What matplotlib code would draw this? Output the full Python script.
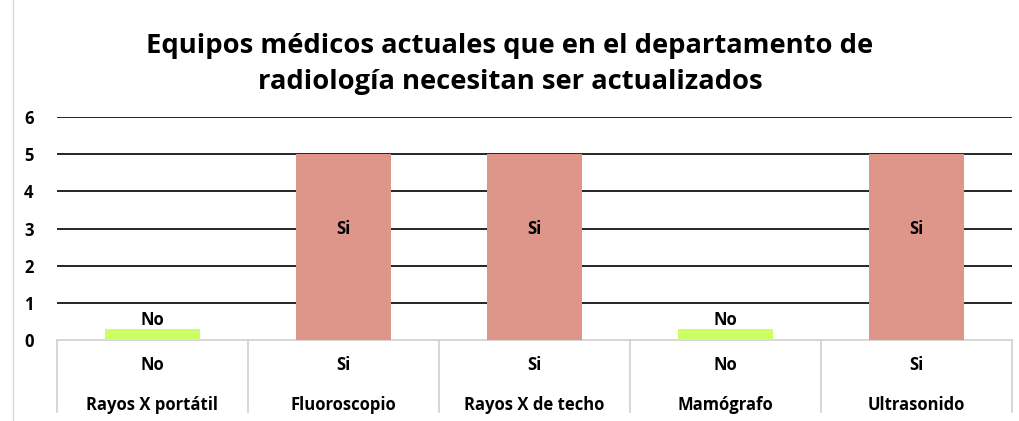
import matplotlib.pyplot as plt
from matplotlib.lines import Line2D

categories = ["Rayos X portátil", "Fluoroscopio", "Rayos X de techo", "Mamógrafo", "Ultrasonido"]
answers = ["No", "Si", "Si", "No", "Si"]
values = [0.3, 5, 5, 0.3, 5]
colors = {"No": "#CCFF66", "Si": "#DE968A"}

plt.rcParams['font.family'] = ['Open Sans', 'DejaVu Sans']

fig = plt.figure(figsize=(10.2, 4.21), dpi=100)
ax = fig.add_axes([57/1020, 81/421, (1012-57)/1020, (340-117)/421])
n = len(categories)
x = list(range(n))
bars = ax.bar(x, values, width=0.5, color=[colors[a] for a in answers], zorder=3)
ax.set_xlim(-0.5, n - 0.5)
ax.set_ylim(0, 6)
ax.set_yticks(range(0, 7))
ax.set_yticklabels([str(i) for i in range(0, 7)], fontweight='bold', fontsize=12)
ax.tick_params(axis='y', length=0, pad=17)
ax.set_xticks([])
for s in ax.spines.values():
    s.set_visible(False)
for yv in range(1, 7):
    ax.axhline(yv, color='black', lw=1.2, zorder=1)

for xi, v, a in zip(x, values, answers):
    if v >= 1:
        ax.text(xi, v / 2 + 0.5, a, ha='center', va='center', fontweight='bold', fontsize=12, zorder=4)
    else:
        ax.text(xi, v + 0.24, a, ha='center', va='center', fontweight='bold', fontsize=12, zorder=4)

# category table below axis
ybot = -1.95
ax.plot([-0.5, n - 0.5], [0, 0], color='#d0d0d0', lw=1.2, clip_on=False, zorder=2)
for b in range(n + 1):
    ax.plot([b - 0.5, b - 0.5], [0, ybot], color='#d0d0d0', lw=1.2, clip_on=False)
for xi, a, c in zip(x, answers, categories):
    ax.text(xi, -0.67, a, ha='center', va='center', fontweight='bold', fontsize=12, clip_on=False)
    ax.text(xi, -1.75, c, ha='center', va='center', fontweight='bold', fontsize=12, clip_on=False)

# faint outer frame line at left
fig.add_artist(Line2D([13/1020, 13/1020], [0, 1], color='#d9d9d9', lw=1))

fig.text(0.5, 1 - 64/421, "Equipos médicos actuales que en el departamento de\nradiología necesitan ser actualizados",
         ha='center', va='center', fontweight='bold', fontsize=19.7, linespacing=1.5)

fig.savefig('out.png', dpi=100, facecolor='white')
